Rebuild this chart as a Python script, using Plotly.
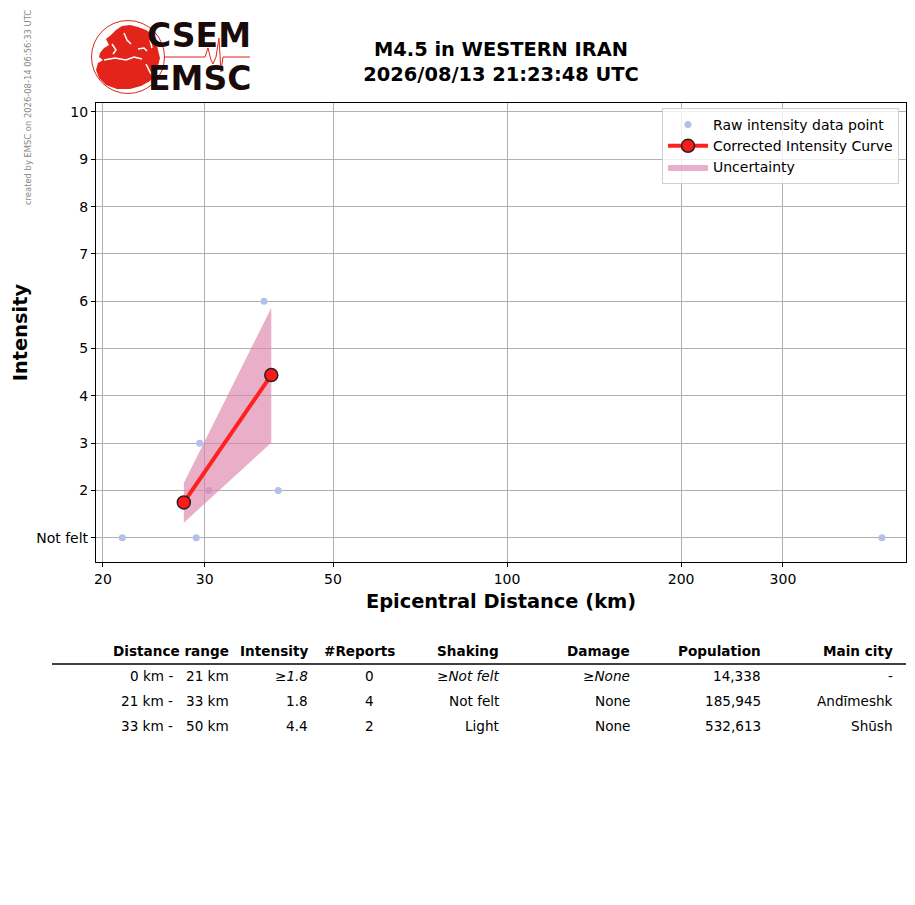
import plotly.graph_objects as go

# ---------------------------------------------------------------- dati
raw_dist = [21.6, 29.0, 29.4, 30.5, 38.0, 40.2, 445.0]   # km
raw_int = [1, 1, 3, 2, 6, 2, 1]

curve_dist = [27.6, 39.1]
curve_int = [1.75, 4.44]
unc_low = [1.32, 3.01]
unc_high = [2.16, 5.86]

x_ticks = [20, 30, 50, 100, 200, 300]
y_ticks = [1, 2, 3, 4, 5, 6, 7, 8, 9, 10]
y_labels = ["Not felt", "2", "3", "4", "5", "6", "7", "8", "9", "10"]

tab_header = ["Distance range", "Intensity", "#Reports", "Shaking", "Damage", "Population", "Main city"]
tab_from = ["0 km -", "21 km -", "33 km -"]
tab_to = ["21 km", "33 km", "50 km"]
tab_int = ["1.8", "1.8", "4.4"]
tab_reports = ["0", "4", "2"]
tab_shaking = ["Not felt", "Not felt", "Light"]
tab_damage = ["None", "None", "None"]
tab_pop = ["14,338", "185,945", "532,613"]
tab_city = ["-", "Andīmeshk", "Shūsh"]
tab_lower_bound = [True, False, False]   # riga "≥" in corsivo

title = "M4.5 in WESTERN IRAN<br>2026/08/13 21:23:48 UTC"
stamp = "created by EMSC on 2026-08-14 06:56:33 UTC"

# ---------------------------------------------------------------- geometria
OFF = 8                                  # margine del <body> nella pagina
W, H = 915 - OFF, 905 - OFF
L, R, T, B = 96, 906, 103, 562           # riquadro del grafico (pixel pagina)
FONT = "DejaVu Sans"


def px(x):                               # pixel pagina -> frazione paper
    return (x - L) / (R - L)


def py(y):
    return (B - y) / (B - T)


fig = go.Figure()

fig.add_trace(go.Scatter(
    x=raw_dist, y=raw_int, mode="markers", name="Raw intensity data point",
    marker=dict(size=7, color="#b3bfec")))

fig.add_trace(go.Scatter(
    x=curve_dist + curve_dist[::-1], y=unc_high + unc_low[::-1],
    fill="toself", mode="lines", line=dict(width=0),
    fillcolor="rgba(221,132,170,0.65)", name="Uncertainty", hoverinfo="skip",
    legendrank=3))

fig.add_trace(go.Scatter(
    x=curve_dist, y=curve_int, mode="lines+markers", name="Corrected Intensity Curve",
    line=dict(color="#ff2020", width=4), legendrank=2,
    marker=dict(size=13, color="#ff1a1a", line=dict(color="#222222", width=1.5))))
fig.data[0].legendrank = 1

axis_common = dict(showline=True, mirror=True, linecolor="black", linewidth=1.2,
                   ticks="outside", ticklen=4, tickcolor="black",
                   showgrid=True, gridcolor="#b0b0b0", gridwidth=1, zeroline=False,
                   tickfont=dict(family=FONT, size=14, color="black"))

fig.update_layout(
    width=W, height=H, plot_bgcolor="white", paper_bgcolor="white",
    margin=dict(l=L - OFF, r=W + OFF - R, t=T - OFF, b=H + OFF - B, autoexpand=False),
    font=dict(family=FONT, color="black"),
    title=dict(text="<b>" + title + "</b>", xref="paper", x=px(501), xanchor="center",
               yref="container", y=1 - 47.5 / H, yanchor="middle",
               font=dict(family=FONT, size=19.4, color="black")),
    xaxis=dict(type="log", range=[1.289, 2.690], tickvals=x_ticks,
               ticktext=[str(v) for v in x_ticks],
               title=dict(text="<b>Epicentral Distance (km)</b>", standoff=8,
                          font=dict(family=FONT, size=19.4)),
               **axis_common),
    yaxis=dict(range=[0.49, 10.19], tickvals=y_ticks, ticktext=y_labels,
               title=dict(text="<b>Intensity</b>", standoff=3,
                          font=dict(family=FONT, size=19.4)),
               **axis_common),
    legend=dict(x=px(899), xanchor="right", y=py(108), yanchor="top",
                bgcolor="rgba(255,255,255,0.8)", bordercolor="#d0d0d0", borderwidth=1,
                font=dict(family=FONT, size=14), tracegroupgap=0, itemwidth=40),
    showlegend=True,
)

# ---------------------------------------------------------------- logo
RED = "#e3241b"
shapes = []
cx, cy, r = 128, 57, 36.5
shapes.append(dict(type="circle", xref="paper", yref="paper",
                   x0=px(cx - r), x1=px(cx + r), y0=py(cy + r), y1=py(cy - r),
                   line=dict(color=RED, width=1)))


def poly(pts, closed=True):
    s = "M " + " L ".join(f"{px(a):.5f},{py(b):.5f}" for a, b in pts)
    return s + (" Z" if closed else "")


land = [(100, 53), (104, 48), (109, 45), (106, 39), (111, 35), (116, 30), (122, 26),
        (130, 25), (138, 27), (146, 30), (152, 34), (156, 41), (158, 50), (160, 58),
        (158, 66), (155, 74), (150, 81), (141, 86), (130, 89), (117, 89), (106, 85),
        (99, 78), (96, 70), (98, 63), (103, 60), (99, 57)]
shapes.append(dict(type="path", xref="paper", yref="paper", path=poly(land),
                   fillcolor=RED, line=dict(width=0)))
# mari e coste (tratti bianchi)
for pts in ([(104, 60), (115, 58), (126, 60), (134, 57), (142, 59)],
            [(124, 33), (127, 40), (131, 44)],
            [(138, 49), (144, 48), (147, 51)],
            [(150, 40), (152, 48)],
            [(146, 64), (150, 72), (154, 78)],
            [(112, 44), (116, 50), (113, 54)]):
    shapes.append(dict(type="path", xref="paper", yref="paper", path=poly(pts, False),
                       line=dict(color="white", width=1.5)))
seis = [(164, 57), (205, 57), (208, 48), (211, 60), (213, 64), (216, 57), (219, 38),
        (221, 72), (223, 57), (250, 57)]
shapes.append(dict(type="path", xref="paper", yref="paper", path=poly(seis, False),
                   line=dict(color=RED, width=1)))

annotations = [
    dict(text="<b>CSEM</b>", x=px(199), y=py(36), xref="paper", yref="paper",
         xanchor="center", yanchor="middle",
         showarrow=False, font=dict(family=FONT, size=33, color="#1a0a0a")),
    dict(text="<b>EMSC</b>", x=px(199), y=py(79), xref="paper", yref="paper",
         xanchor="center", yanchor="middle",
         showarrow=False, font=dict(family=FONT, size=33, color="#1a0a0a")),
    dict(text=stamp, x=px(28), y=py(108), xref="paper", yref="paper", textangle=-90,
         xanchor="center", yanchor="middle",
         showarrow=False, font=dict(family=FONT, size=8.4, color="#888888")),
]

# ---------------------------------------------------------------- tabella
head_y, row_y = 651, [676, 701, 726]
col_right = [231, 310, 397, 501, 632, 763, 895]


def cell(text, x, y, bold=False):
    t = f"<b>{text}</b>" if bold else text
    annotations.append(dict(text=t, x=px(x), y=py(y), xref="paper", yref="paper",
                            xanchor="right", yanchor="middle", showarrow=False,
                            font=dict(family=FONT, size=13.6, color="black")))


for h, xr in zip(tab_header, col_right):
    cell(h, xr, head_y, bold=True)

for i, y in enumerate(row_y):
    ge = tab_lower_bound[i]

    def f(s):
        return "≥<i>" + s + "</i>" if ge else s
    cell(tab_from[i], 175, y)
    cell(tab_to[i], 231, y)
    cell(f(tab_int[i]), 310, y)
    cell(tab_reports[i], 376, y)
    cell(f(tab_shaking[i]), 501, y)
    cell(f(tab_damage[i]), 632, y)
    cell(tab_pop[i], 763, y)
    cell(tab_city[i], 895, y)

shapes.append(dict(type="line", xref="paper", yref="paper",
                   x0=px(52), x1=px(906), y0=py(664), y1=py(664),
                   line=dict(color="black", width=1.5)))

fig.update_layout(shapes=shapes, annotations=annotations)
fig.write_html("out.html")
